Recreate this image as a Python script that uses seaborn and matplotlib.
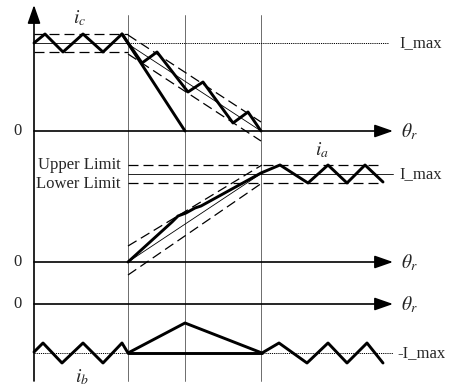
import matplotlib
matplotlib.use("Agg")
import matplotlib.pyplot as plt
import numpy as np
import pandas as pd
import seaborn as sns

sns.set_style("white")
plt.rcParams["font.family"] = ["Liberation Serif", "DejaVu Serif"]
plt.rcParams["mathtext.fontset"] = "stix"

# ---- drawing units: theta runs left to right, current levels are screen rows ----
theta_axis = 34
theta_end = 393
theta_marks = [128, 185, 261]          # commutation instants
zero_rows = {"c": 131, "a": 262, "b": 304}
imax_rows = {"c": 43, "a": 174, "b": 353}
band = 9                                # hysteresis half-width

# phase c: hysteresis ripple, then falling towards zero
ic_theta = [34, 45, 63, 83, 103, 122, 142, 157, 188, 203, 233, 248, 261]
ic_value = [43, 34, 52, 34, 52, 34, 63, 52, 92, 82, 123, 112, 131]
ic_free_theta = [122, 185]
ic_free_value = [34, 131]

# phase a: rising from zero to the limit, then ripple
ia_theta = [128, 172, 178, 186, 195, 201, 261, 280, 308, 328, 347, 365, 383]
ia_value = [262, 222, 216, 213, 208, 206, 173, 165, 183, 165, 183, 165, 182]
ia_ref_theta = [128, 262]
ia_ref_value = [262, 173]
ia_upper_value = [246, 165]
ia_lower_value = [275, 183]

# phase b: ripple around -I_max with a bump during commutation
ib_theta = [34, 43, 62, 83, 103, 122, 128, 185, 262, 279, 307, 328, 347, 367, 383]
ib_value = [352, 343, 363, 343, 363, 343, 353, 323, 353, 343, 363, 343, 363, 343, 363]
ib_flat_theta = [128, 262]

# phase c reference ramp
ic_ref_theta = [128, 261]
ic_ref_value = [44, 131]

fig = plt.figure(figsize=(4.54, 3.87), dpi=100)
ax = fig.add_axes([0, 0, 1, 1])

thick = 2.1
thin = 0.6
dash = (0, (8, 4))
label_fs = 12

# vertical guides
for x in theta_marks:
    ax.plot([x, x], [15, 381], color="#555555", lw=0.6, zorder=1)

# axes with arrow heads
arrow = dict(arrowstyle="-|>,head_length=0.8,head_width=0.28", lw=1.2,
             color="black", mutation_scale=14, shrinkA=0, shrinkB=0)
ax.annotate("", xy=(theta_axis, 5), xytext=(theta_axis, 381), arrowprops=arrow)
for key, row in zero_rows.items():
    ax.annotate("", xy=(theta_end, row), xytext=(theta_axis, row), arrowprops=arrow)
    ax.text(18, row, "0", ha="center", va="center", fontsize=label_fs)
    ax.text(409, row + 1, r"$\theta_r$", ha="center", va="center", fontsize=14)

# --- phase c limits ---
r = imax_rows["c"]
ax.plot([theta_axis, 128], [r, r], color="black", lw=thin)
ax.plot([128, 388], [r, r], color="black", lw=0.7, ls=(0, (1.2, 1.0)))
ax.plot([theta_axis, 128], [r - band, r - band], color="black", lw=0.9, ls=dash)
ax.plot([theta_axis, 128], [r + band, r + band], color="black", lw=0.9, ls=dash)
ax.plot(ic_ref_theta, ic_ref_value, color="black", lw=thin)
ax.plot(ic_ref_theta, [v - band for v in ic_ref_value], color="black", lw=0.9, ls=dash)
ax.plot(ic_ref_theta, [v + band + 1 for v in ic_ref_value], color="black", lw=0.9, ls=dash)
ax.text(399, r, "I_max", ha="left", va="center", fontsize=label_fs)

# --- phase a limits ---
r = imax_rows["a"]
ax.plot([128, 393], [r, r], color="black", lw=thin)
ax.plot([128, 378], [r - band, r - band], color="black", lw=0.9, ls=dash)
ax.plot([128, 378], [r + band, r + band], color="black", lw=0.9, ls=dash)
ax.plot(ia_ref_theta, ia_ref_value, color="black", lw=thin)
ax.plot(ia_ref_theta, ia_upper_value, color="black", lw=0.9, ls=dash)
ax.plot(ia_ref_theta, ia_lower_value, color="black", lw=0.9, ls=dash)
ax.text(399, r, "I_max", ha="left", va="center", fontsize=label_fs)
ax.text(121, r - band, "Upper Limit", ha="right", va="center", fontsize=label_fs)
ax.text(121, r + band + 1, "Lower Limit", ha="right", va="center", fontsize=label_fs)

# --- phase b limit ---
r = imax_rows["b"]
ax.plot([theta_axis, 393], [r, r], color="black", lw=0.7, ls=(0, (1.2, 1.0)))
ax.text(397, r, "-I_max", ha="left", va="center", fontsize=label_fs)

# current traces
traces = [
    (ic_theta, ic_value),
    (ic_free_theta, ic_free_value),
    (ia_theta, ia_value),
    (ib_theta, ib_value),
    (ib_flat_theta, [imax_rows["b"]] * 2),
]
for t, v in traces:
    df = pd.DataFrame({"theta": t, "i": v})
    sns.lineplot(data=df, x="theta", y="i", sort=False, estimator=None,
                 color="black", lw=thick, ax=ax, zorder=5)
ax.set_xlim(0, 454)
ax.set_ylim(387, 0)
ax.axis("off")

ax.text(80, 18, r"$i_c$", ha="center", va="center", fontsize=14)
ax.text(322, 150, r"$i_a$", ha="center", va="center", fontsize=14)
ax.text(82, 377, r"$i_b$", ha="center", va="center", fontsize=14)

fig.savefig("out.png", dpi=100)
